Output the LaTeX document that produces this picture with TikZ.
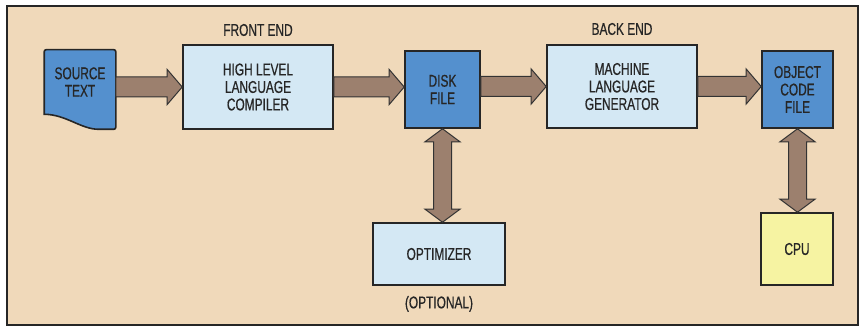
\documentclass[tikz,border=0pt]{standalone}
\usepackage{fontspec}
\setmainfont{Liberation Sans}[FakeStretch=0.7, FakeBold=0.6]
\usepackage{xcolor}
\usepackage{tikz}
\usetikzlibrary{positioning, arrows.meta, calc, backgrounds}
\definecolor{paperbg}{HTML}{F0D9BA}
\definecolor{fileblue}{HTML}{5490CE}
\definecolor{stageblue}{HTML}{D4E8F4}
\definecolor{cpuyellow}{HTML}{F6F3A2}
\definecolor{flowbrown}{HTML}{9C806E}
\definecolor{inkgray}{HTML}{262626}

\tikzset{
  outline/.style={draw=black!85, line width=1.6pt},
  box/.style={outline, text=inkgray, align=center, inner sep=0pt,
    font=\fontsize{17}{17.5}\selectfont},
  filebox/.style={box, fill=fileblue},
  stagebox/.style={box, fill=stageblue},
  tag/.style={text=inkgray, inner sep=0pt, font=\fontsize{17}{17.5}\selectfont},
  flow/.style={fill=flowbrown, draw=black!80, line width=1pt, line join=miter}
}

% fat arrow, left to right
\newcommand{\hflow}[2]{%
  \draw[flow] ($(#1)+(0,10)$) -- ($(#2)+(-15,10)$) -- ($(#2)+(-15,17.5)$) -- (#2)
    -- ($(#2)+(-15,-17.5)$) -- ($(#2)+(-15,-10)$) -- ($(#1)+(0,-10)$) -- cycle;}
% fat arrow with two heads, top to bottom
\newcommand{\vflow}[2]{%
  \draw[flow] (#1) -- ($(#1)+(17.5,-13)$) -- ($(#1)+(9,-13)$) -- ($(#2)+(9,13)$)
    -- ($(#2)+(17.5,13)$) -- (#2) -- ($(#2)+(-17.5,13)$) -- ($(#2)+(-9,13)$)
    -- ($(#1)+(-9,-13)$) -- ($(#1)+(-17.5,-13)$) -- cycle;}

\begin{document}
\begin{tikzpicture}[x=1pt, y=1pt]
  \useasboundingbox (0,0) rectangle (860,327);
  \begin{pgfonlayer}{background}
    \fill[white] (0,0) rectangle (860,327);
    \filldraw[fill=paperbg, draw=black!85, line width=1.5pt] (7,2) rectangle (858,321);
  \end{pgfonlayer}

  \node[box, draw=none, minimum width=70pt, minimum height=63pt] (src) at (80,245) {SOURCE\\TEXT};
  \node[stagebox, minimum width=150pt, minimum height=84pt] (hll) at (258,240) {HIGH LEVEL\\LANGUAGE\\COMPILER};
  \node[filebox, minimum width=75pt, minimum height=77pt] (disk) at (442.5,237.5) {DISK\\FILE};
  \node[stagebox, minimum width=150pt, minimum height=83pt] (mlg) at (622,240.5) {MACHINE\\LANGUAGE\\GENERATOR};
  \node[filebox, minimum width=71pt, minimum height=77pt] (obj) at (797.5,237.5) {OBJECT\\CODE\\FILE};
  \node[stagebox, minimum width=132pt, minimum height=62pt] (opt) at (439,73) {OPTIMIZER};
  \node[box, fill=cpuyellow, minimum width=72pt, minimum height=72pt] (cpu) at (797,78) {CPU};

  \node[tag, above=8pt of hll] (frontend) {FRONT END};
  \node[tag, above=9pt of mlg] (backend) {BACK END};
  \node[tag, below=10pt of opt] (optional) {(OPTIONAL)};

  % page with a curled bottom edge
  \begin{pgfonlayer}{background}
    \filldraw[outline, fill=fileblue, rounded corners=2pt] (src.south west) -- (src.north west)
      -- (src.north east) -- ($(src.south east)+(0,-15)$) -- ($(src.south east)+(-15,-15)$)
      [sharp corners] .. controls ($(src.south east)+(-35,-15)$) and ($(src.south east)+(-50,0)$)
      .. (src.south west) -- cycle;
  \end{pgfonlayer}

  \hflow{src.east |- hll.west}{hll.west}
  \hflow{hll.east}{disk.west |- hll.east}
  \hflow{disk.east |- mlg.west}{mlg.west}
  \hflow{mlg.east}{obj.west |- mlg.east}
  \vflow{disk.south}{opt.north -| disk.south}
  \vflow{obj.south}{cpu.north -| obj.south}
\end{tikzpicture}
\end{document}
